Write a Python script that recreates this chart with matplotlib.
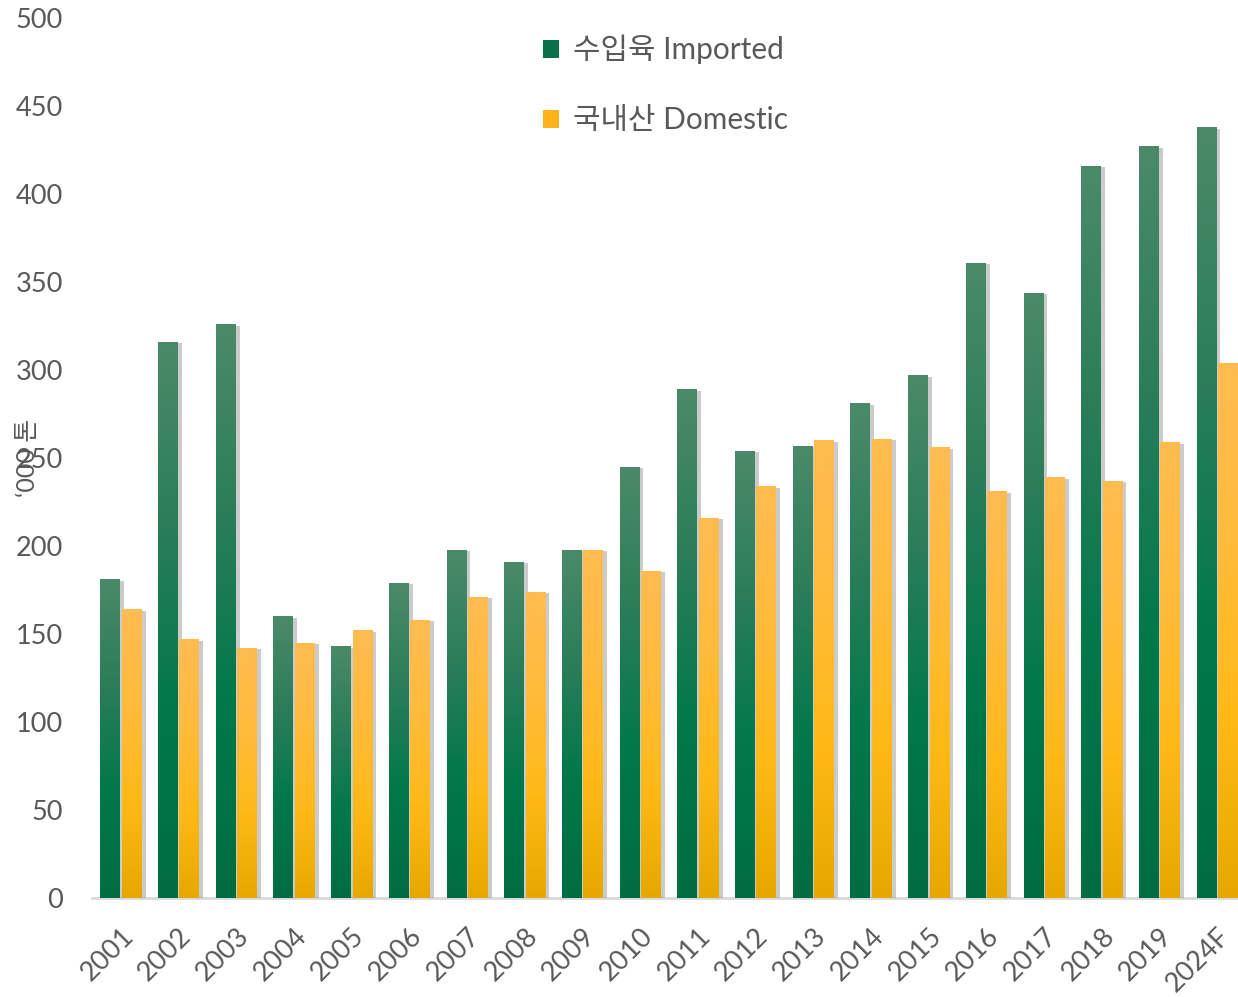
import matplotlib
matplotlib.use("Agg")
import matplotlib.pyplot as plt
import numpy as np
from matplotlib.colors import LinearSegmentedColormap
from matplotlib.patches import Patch
from matplotlib.transforms import ScaledTranslation
import matplotlib.patheffects as pe

plt.rcParams['font.family'] = ['Lato', 'Noto Sans CJK KR', 'DejaVu Sans']

years = ["2001", "2002", "2003", "2004", "2005", "2006", "2007", "2008", "2009", "2010",
         "2011", "2012", "2013", "2014", "2015", "2016", "2017", "2018", "2019", "2024F"]
imported = [181, 316, 326, 160, 143, 179, 198, 191, 198, 245,
            289, 254, 257, 281, 297, 361, 344, 416, 427, 438]
domestic = [164, 147, 142, 145, 152, 158, 171, 174, 198, 186,
            216, 234, 260, 261, 256, 231, 239, 237, 259, 304]

text_grey = "#595959"
green_cmap = LinearSegmentedColormap.from_list("g", ["#006c42", "#00784a", "#2a7d58", "#4b8a69"])
orange_cmap = LinearSegmentedColormap.from_list("o", ["#e6a800", "#ffb917", "#ffbb3c", "#ffbb50"])

fig = plt.figure(figsize=(12.38, 9.97), dpi=100)
ax = fig.add_axes([92 / 1238, 99 / 997, 1154 / 1238, 880 / 997])

x = np.arange(len(years))
w = 0.34
shadow = [pe.SimplePatchShadow(offset=(3, -1), shadow_rgbFace="#7f7f7f", alpha=0.4), pe.Normal()]
bars_imp = ax.bar(x - 0.185, imported, w, color="#00784a", zorder=2)
bars_dom = ax.bar(x + 0.185, domestic, w, color="#ffb400", zorder=2)

# vertical gradient inside each bar, clipped to the bar rectangle
grad = np.linspace(0, 1, 256).reshape(-1, 1)
for bars, cmap in ((bars_imp, green_cmap), (bars_dom, orange_cmap)):
    for b in bars:
        b.set_path_effects(shadow)
        x0, h, bw = b.get_x(), b.get_height(), b.get_width()
        im = ax.imshow(grad, extent=(x0, x0 + bw, 0, h), origin="lower", aspect="auto",
                       cmap=cmap, zorder=3)
        im.set_clip_path(b)

ax.set_xlim(-0.5, 19.5)
ax.set_ylim(0, 500)
ax.set_yticks(range(0, 501, 50))
ax.set_xticks(x)
ax.set_xticklabels(years, rotation=45, ha="right", rotation_mode="anchor")
shift = ScaledTranslation(-12 / 100, 0, fig.dpi_scale_trans)
for lbl in ax.get_xticklabels():
    lbl.set_transform(lbl.get_transform() + shift)
for s in ("top", "right", "left"):
    ax.spines[s].set_visible(False)
ax.spines["bottom"].set_color("#d9d9d9")
ax.spines["bottom"].set_linewidth(2)
ax.spines["bottom"].set_zorder(1)
ax.tick_params(axis="y", length=0, pad=21, labelsize=19.5, labelcolor=text_grey)
ax.tick_params(axis="x", length=0, pad=18, labelsize=19.5, labelcolor=text_grey)

ax.set_ylabel("\u2018000 톤", fontsize=18, color=text_grey)
ax.yaxis.set_label_coords(-0.046, 0.5)

handles = [Patch(facecolor="#0a7048", edgecolor="none"), Patch(facecolor="#ffb21a", edgecolor="none")]
fig.legend(handles, ["수입육 Imported", "국내산 Domestic"], loc="upper left",
           bbox_to_anchor=(516 / 1238, 1 - 8 / 997), frameon=False, fontsize=21.5,
           labelcolor=text_grey, handlelength=0.55, handleheight=0.55, handletextpad=0.45,
           labelspacing=1.4)

fig.savefig("out.png", dpi=100)
